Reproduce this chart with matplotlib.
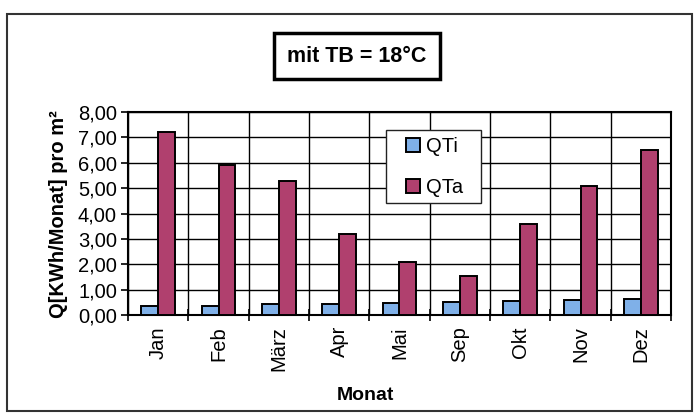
import matplotlib
matplotlib.use("Agg")
import matplotlib.pyplot as plt
from matplotlib.patches import Rectangle
import numpy as np

plt.rcParams['font.family'] = ['Liberation Sans', 'DejaVu Sans']

months = ["Jan", "Feb", "März", "Apr", "Mai", "Sep", "Okt", "Nov", "Dez"]
qti = [0.35, 0.37, 0.42, 0.45, 0.48, 0.52, 0.55, 0.60, 0.63]
qta = [7.20, 5.90, 5.28, 3.20, 2.10, 1.52, 3.57, 5.08, 6.50]
yticks = [0, 1, 2, 3, 4, 5, 6, 7, 8]
ytick_labels = ["0,00", "1,00", "2,00", "3,00", "4,00", "5,00", "6,00", "7,00", "8,00"]

W, H = 699, 416
fig = plt.figure(figsize=(W / 100, H / 100), dpi=100)
fig.patch.set_facecolor("white")

# outer chart frame
fig.add_artist(Rectangle((7 / W, 1 - 411 / H), (692 - 7) / W, (411 - 14) / H,
                         transform=fig.transFigure, fill=False,
                         edgecolor="#333333", linewidth=1.5))

ax = fig.add_axes([128 / W, 1 - 315 / H, (671 - 128) / W, (315 - 112) / H])
x = np.arange(len(months))
bw = 0.28
ax.bar(x - bw / 2, qti, bw, color="#7FB0E8", edgecolor="black", linewidth=1.4,
       label="QTi", zorder=3)
ax.bar(x + bw / 2, qta, bw, color="#B0406E", edgecolor="black", linewidth=1.4,
       label="QTa", zorder=3)

ax.set_xlim(-0.5, len(months) - 0.5)
ax.set_ylim(0, 8)
ax.set_yticks(yticks)
ax.set_yticklabels(ytick_labels, fontsize=14.5)
ax.set_xticks(x)
ax.set_xticklabels(months, rotation=90, fontsize=14.5)
ax.set_xticks(np.arange(-0.5, len(months), 1), minor=True)
ax.tick_params(axis="x", which="major", length=0, pad=8)
ax.tick_params(axis="x", which="minor", length=8, direction="inout", width=1.2)
ax.tick_params(axis="y", which="major", length=5, direction="out", width=1.2, pad=3)
ax.grid(axis="y", which="major", color="black", linewidth=1.0, zorder=0)
ax.grid(axis="x", which="minor", color="black", linewidth=1.0, zorder=0)
for s in ax.spines.values():
    s.set_linewidth(1.5)
    s.set_color("black")

fig.text(365 / W, 1 - 395 / H, "Monat", fontsize=14, fontweight="bold",
         ha="center", va="center")
fig.text(58 / W, 1 - 214 / H, "Q[KWh/Monat] pro m²", fontsize=14.5,
         fontweight="bold", rotation=90, ha="center", va="center")

fig.text(357 / W, 1 - 56 / H, "mit TB = 18°C", fontsize=15.5, fontweight="bold",
         ha="center", va="center",
         bbox=dict(boxstyle="square,pad=0.6", facecolor="white",
                   edgecolor="black", linewidth=2.5))

# legend box
ax.add_patch(Rectangle((386 / W, 1 - 203 / H), (481 - 386) / W, (203 - 130) / H,
                       transform=fig.transFigure, facecolor="white",
                       edgecolor="#222222", linewidth=1.0, zorder=4,
                       clip_on=False))
leg = ax.legend(loc="upper left", bbox_to_anchor=(406 / W, 1 - 137 / H),
                bbox_transform=fig.transFigure, borderaxespad=0, borderpad=0,
                fontsize=14.5, frameon=False,
                handlelength=0.7, handleheight=0.7,
                handletextpad=0.3, labelspacing=1.1)
leg.set_zorder(6)

fig.savefig("out.png", dpi=100)
